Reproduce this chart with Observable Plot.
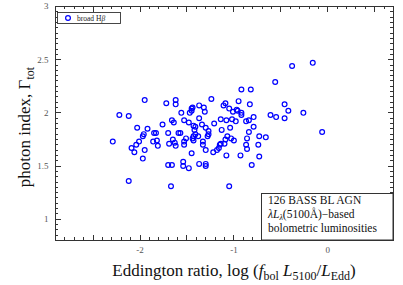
<!DOCTYPE html>
<html><head><meta charset="utf-8">
<script src="https://cdn.jsdelivr.net/npm/d3@7"></script>
<script src="https://cdn.jsdelivr.net/npm/@observablehq/plot@0.6"></script>
<style>body{margin:0;background:#fff} #chart{width:403px;height:285px}</style>
</head><body><div id="chart"></div>
<script>
// Eddington ratio, log(f_bol L5100 / L_Edd)
const eddRatio = [
-2.29,-2.22,-2.12,-2.12,-2.03,-1.92,-2.09,-2.06,-2.04,-2.01,
-1.96,-1.97,-1.95,-1.97,-1.95,-1.85,-1.83,-1.86,-1.82,-1.81,
-1.76,-1.72,-1.70,-1.66,-1.64,-1.65,-1.63,-1.62,-1.69,-1.70,
-1.66,-1.67,-1.62,-1.62,-1.59,-1.57,-1.56,-1.53,-1.48,-1.51,
-1.53,-1.53,-1.54,-1.54,-1.48,-1.47,-1.45,-1.44,-1.45,-1.43,
-1.41,-1.42,-1.43,-1.41,-1.38,-1.44,-1.43,-1.45,-1.37,-1.37,
-1.37,-1.34,-1.32,-1.31,-1.33,-1.33,-1.30,-1.30,-1.30,-1.28,
-1.27,-1.27,-1.30,-1.24,-1.21,-1.22,-1.18,-1.16,-1.15,-1.14,
-1.13,-1.14,-1.11,-1.09,-1.08,-1.05,-1.01,-1.02,-1.04,-1.07,
-1.09,-1.03,-1.00,-1.10,-1.08,-1.05,-0.97,-0.96,-0.95,-0.98,
-0.92,-0.92,-0.92,-0.93,-0.87,-0.84,-0.84,-0.86,-0.87,-0.86,
-0.82,-0.83,-0.79,-0.79,-0.81,-0.73,-0.66,-0.74,-0.73,-0.61,
-0.55,-0.56,-0.46,-0.46,-0.42,-0.38,-0.26,-0.16,-0.06
];
// photon index, Gamma_tot
const photonIndex = [
1.73,1.98,1.97,1.36,1.86,1.85,1.67,1.63,1.70,1.73,
1.80,1.78,1.65,1.57,2.12,1.81,1.81,1.73,1.74,1.69,
1.89,2.09,1.81,1.93,1.91,1.75,1.72,1.69,1.71,1.51,
1.51,1.31,2.12,2.08,1.81,1.81,2.00,1.93,1.91,1.76,
1.73,1.70,1.54,1.50,1.48,2.00,2.04,2.05,2.02,1.88,
1.87,1.84,1.78,1.80,1.78,1.76,1.74,1.62,1.95,2.07,
1.52,1.89,2.05,2.01,1.73,1.70,1.65,1.52,1.50,1.78,
1.80,1.83,1.86,2.13,1.90,1.63,1.65,1.67,1.70,1.94,
1.84,1.71,2.07,2.09,1.93,2.04,2.01,1.94,1.86,1.78,
1.75,1.76,1.74,1.71,1.60,1.31,2.03,2.02,2.11,1.92,
2.22,2.00,1.98,1.60,1.92,1.93,1.82,1.76,1.70,1.66,
2.22,2.08,1.96,1.87,1.51,1.78,1.77,1.70,1.59,1.98,
1.96,2.29,2.08,1.95,2.02,2.44,2.00,2.47,1.82
];
const xTickLabels = [-2, -1, 0];
const yTickLabels = [1, 1.5, 2, 2.5, 3];
const legendLabel = ["broad H", "β"];
const noteLines = ["126 BASS BL AGN", "λL|λ|(5100Å)−based", "bolometric luminosities"];

const data = eddRatio.map((x, i) => ({x, y: photonIndex[i]}));

const W = 403, H = 285, mL = 55, mR = 10, mT = 6, mB = 45;
const innerW = W - mL - mR, innerH = H - mT - mB;
const xMajor = d3.range(-5, 2).map(d => d / 2);
const xMinor = d3.range(-29, 8).map(d => d / 10);
const yMajor = d3.range(2, 7).map(d => d / 2);
const yMinor = d3.range(16, 61).map(d => d / 20);
const tk = {stroke: "#333", strokeWidth: 1, shapeRendering: "crispEdges"};
const minorLen = 3, majorLen = 5.5;
const serif = "'Liberation Serif', 'DejaVu Serif', serif";

const svg = Plot.plot({
  width: W, height: H,
  marginLeft: mL, marginRight: mR, marginTop: mT, marginBottom: mB,
  style: {fontFamily: serif, background: "#fff"},
  x: {domain: [-2.9, 0.7], axis: null},
  y: {domain: [0.8, 3], axis: null},
  marks: [
    Plot.tickX(xMinor, {x: d => d, insetTop: innerH - minorLen, ...tk}),
    Plot.tickX(xMinor, {x: d => d, insetBottom: innerH - minorLen, ...tk}),
    Plot.tickX(xMajor, {x: d => d, insetTop: innerH - majorLen, ...tk}),
    Plot.tickX(xMajor, {x: d => d, insetBottom: innerH - majorLen, ...tk}),
    Plot.tickY(yMinor, {y: d => d, insetRight: innerW - minorLen, ...tk}),
    Plot.tickY(yMinor, {y: d => d, insetLeft: innerW - minorLen, ...tk}),
    Plot.tickY(yMajor, {y: d => d, insetRight: innerW - majorLen, ...tk}),
    Plot.tickY(yMajor, {y: d => d, insetLeft: innerW - majorLen, ...tk}),
    Plot.frame({stroke: "#333", strokeWidth: 1}),
    Plot.text(xTickLabels, {x: d => d, frameAnchor: "bottom", dy: 12, text: d => String(d), fontSize: 9, fill: "#555"}),
    Plot.text(yTickLabels, {y: d => d, frameAnchor: "left", dx: -7, textAnchor: "end", text: d => String(d), fontSize: 9, fill: "#555"}),
    Plot.dot(data, {x: "x", y: "y", r: 2.4, stroke: "#0000ff", strokeWidth: 1.2, fill: "none"})
  ]
});

const s = d3.select(svg);

// x-axis label
{
  const t = s.append("text").attr("x", 234).attr("y", 276).attr("text-anchor", "middle")
    .attr("font-size", 17).attr("fill", "#111").attr("font-family", serif);
  t.append("tspan").text("Eddington ratio, log (");
  t.append("tspan").attr("font-style", "italic").text("f");
  t.append("tspan").attr("font-size", 12).attr("dy", 3.5).text("bol");
  t.append("tspan").attr("dy", -3.5).text(" ");
  t.append("tspan").attr("font-style", "italic").text("L");
  t.append("tspan").attr("font-size", 12).attr("dy", 3.5).text("5100");
  t.append("tspan").attr("dy", -3.5).text("/");
  t.append("tspan").attr("font-style", "italic").text("L");
  t.append("tspan").attr("font-size", 12).attr("dy", 3.5).text("Edd");
  t.append("tspan").attr("dy", -3.5).text(")");
}
// y-axis label
{
  const t = s.append("text").attr("transform", "translate(30,127) rotate(-90)").attr("text-anchor", "middle")
    .attr("font-size", 17).attr("fill", "#111").attr("font-family", serif);
  t.append("tspan").text("photon index, Γ");
  t.append("tspan").attr("font-size", 12).attr("dy", 3.5).text("tot");
}
// legend
{
  const g = s.append("g").attr("text-anchor", "start");
  g.append("rect").attr("x", 57.5).attr("y", 12.5).attr("width", 63).attr("height", 11)
    .attr("fill", "#fff").attr("stroke", "#333").attr("stroke-width", 0.9);
  g.append("circle").attr("cx", 68).attr("cy", 18).attr("r", 2.4)
    .attr("fill", "none").attr("stroke", "#0000ff").attr("stroke-width", 1.2);
  const t = g.append("text").attr("x", 77).attr("y", 20.5).attr("font-size", 7.5).attr("fill", "#222").attr("font-family", serif);
  t.append("tspan").text(legendLabel[0]);
  t.append("tspan").attr("font-style", "italic").text(legendLabel[1]);
}
// inset note
{
  const g = s.append("g").attr("text-anchor", "start");
  g.append("rect").attr("x", 261.5).attr("y", 193.5).attr("width", W - mR - 261.5).attr("height", H - mB - 193.5)
    .attr("fill", "#fff").attr("stroke", "#333").attr("stroke-width", 1);
  const base = [203.5, 217.5, 231.5];
  noteLines.forEach((line, i) => {
    const t = g.append("text").attr("x", 268).attr("y", base[i]).attr("font-size", 11.5).attr("fill", "#111").attr("font-family", serif);
    const parts = line.split("|");
    if (parts.length === 1) { t.text(line); return; }
    t.append("tspan").attr("font-style", "italic").text(parts[0]);
    t.append("tspan").attr("font-size", 8).attr("font-style", "italic").attr("dy", 2.5).text(parts[1]);
    t.append("tspan").attr("dy", -2.5).text(parts[2]);
  });
}
document.getElementById("chart").appendChild(svg);
</script>
</body></html>
